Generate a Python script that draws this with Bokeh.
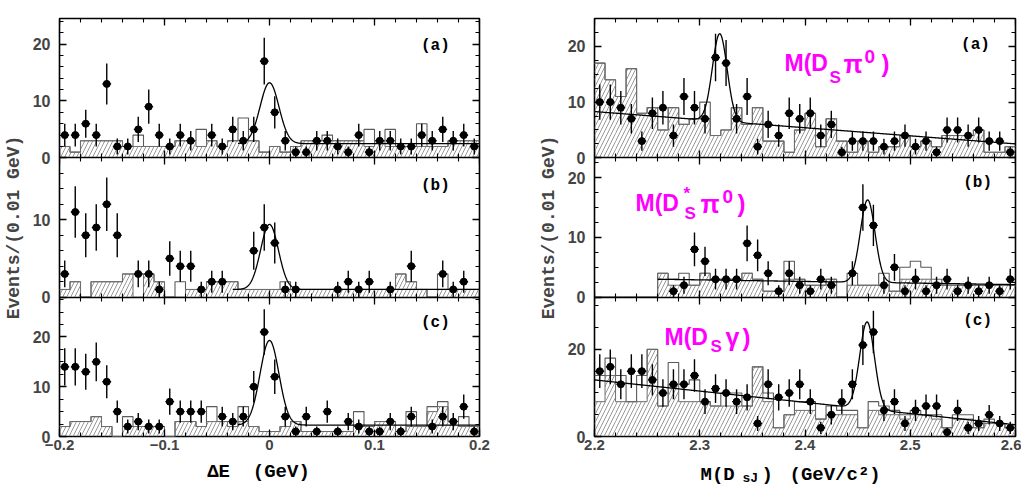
import numpy as np
from bokeh.plotting import figure
from bokeh.models import Range1d, LinearAxis, SingleIntervalTicker, FixedTicker, Label
from bokeh.layouts import row, column
from bokeh.embed import file_html
from bokeh.resources import INLINE

# ---------------- data ----------------
# bin edges (0.01 GeV bins)
de_edges = [round(-0.2 + 0.01 * i, 3) for i in range(41)]
m_edges = [round(2.2 + 0.01 * i, 3) for i in range(41)]

# Delta E panels: events per bin (points), hatched and open background histograms
de_a_n = [4, 4, 6, 4, 13, 2, 2, 5, 9, 4, 2, 4, 3, 0, 4, 2, 5, 3, 5, 17,
          8, 3, 1, 1, 3, 3, 2, 1, 4, 1, 3, 3, 2, 2, 4, 3, 5, 3, 4, 2]
de_a_hatch = [2, 1, 3, 3, 3, 3, 2, 2, 2, 2, 2, 3, 3, 2, 3, 2, 3, 3, 3, 1,
              2, 1, 2, 3, 3, 3, 3, 3, 3, 2, 3, 2, 2, 2, 2, 2, 2, 3, 3, 3]
de_a_open = [2, 1, 3, 3, 3, 3, 2, 4, 2, 2, 2, 3, 3, 5, 3, 2, 3, 7, 3, 1,
             2, 1, 2, 3, 3, 4, 3, 3, 3, 5, 3, 5, 2, 2, 6, 2, 2, 3, 3, 3]

de_b_n = [3, 11, 8, 9, 12, 8, 0, 3, 3, 1, 5, 4, 4, 1, 2, 2, 0, 0, 6, 9,
          7, 1, 1, 0, 0, 0, 1, 2, 1, 2, 0, 1, 0, 4, 0, 0, 3, 1, 2, 0]
de_b_hatch = [1, 2, 0, 2, 2, 2, 3, 0, 3, 2, 0, 0, 1, 1, 2, 2, 2, 1, 1, 1,
              1, 1, 1, 1, 1, 1, 1, 1, 1, 1, 1, 1, 3, 2, 1, 0, 1, 1, 1, 1]
de_b_open = [1, 2, 0, 2, 2, 2, 3, 3, 3, 2, 0, 2, 1, 1, 2, 2, 2, 1, 1, 1,
             1, 2, 1, 1, 1, 1, 1, 1, 1, 1, 1, 1, 3, 2, 1, 0, 3, 1, 1, 1]

de_c_n = [14, 14, 13, 15, 11, 5, 2, 3, 2, 2, 7, 5, 5, 5, 0, 4, 3, 4, 10, 21,
          12, 4, 1, 4, 1, 5, 1, 3, 2, 1, 1, 3, 1, 4, 0, 2, 4, 3, 6, 1]
de_c_hatch = [2, 3, 3, 4, 2, 0, 2, 2, 2, 2, 0, 3, 3, 2, 3, 3, 2, 3, 2, 1,
              1, 2, 3, 1, 1, 1, 1, 1, 2, 2, 3, 3, 1, 2, 2, 5, 6, 3, 2, 2]
de_c_open = [2, 3, 3, 4, 2, 0, 4, 2, 2, 2, 0, 3, 3, 2, 6, 3, 2, 6, 2, 1,
             1, 2, 3, 1, 1, 1, 1, 1, 5, 2, 3, 3, 1, 5, 2, 6, 7, 3, 4, 2]

# M(DsJ) panels
m_a_n = [10, 10, 9, 7, 3, 8, 9, 4, 11, 9, 7, 18, 17, 7, 11, 2, 6, 4, 8, 7,
         8, 4, 6, 1, 3, 3, 3, 2, 3, 4, 2, 3, 1, 5, 5, 4, 5, 3, 3, 1]
m_a_hatch = [17, 14, 11, 16, 8, 9, 5, 9, 6, 7, 7, 4, 5, 9, 6, 9, 3, 3, 1, 5,
             8, 2, 7, 3, 1, 3, 1, 2, 2, 4, 2, 3, 2, 4, 4, 4, 5, 1, 1, 2]
m_a_open = [17, 14, 11, 16, 8, 9, 5, 9, 6, 7, 10, 4, 5, 9, 6, 9, 3, 3, 1, 5,
            8, 2, 7, 3, 1, 3, 1, 2, 2, 4, 2, 3, 2, 4, 4, 4, 5, 1, 1, 2]

m_b_n = [0, 0, 0, 0, 0, 0, 0, 1, 2, 8, 6, 3, 3, 3, 9, 7, 4, 1, 4, 2,
         1, 3, 2, 0, 4, 15, 12, 2, 5, 1, 3, 1, 2, 3, 1, 2, 1, 2, 1, 3]
m_b_hatch = [0, 0, 0, 0, 0, 0, 4, 2, 2, 2, 4, 3, 3, 3, 4, 3, 1, 1, 3, 3,
             2, 2, 3, 0, 2, 2, 2, 2, 1, 3, 3, 3, 2, 2, 2, 2, 2, 2, 2, 2]
m_b_open = [0, 0, 0, 0, 0, 0, 4, 3, 4, 2, 4, 3, 3, 3, 4, 3, 1, 1, 6, 3,
            2, 2, 3, 0, 4, 2, 2, 4, 1, 5, 6, 5, 3, 2, 2, 2, 2, 2, 2, 2]

m_c_n = [15, 16, 12, 15, 15, 13, 10, 12, 12, 14, 8, 11, 10, 8, 9, 3, 12, 9, 10, 12,
         8, 2, 5, 8, 12, 21, 24, 6, 8, 3, 6, 7, 7, 1, 6, 2, 3, 5, 3, 2]
m_c_hatch = [8, 14, 8, 8, 8, 20, 7, 12, 8, 8, 8, 7, 7, 7, 7, 16, 8, 2, 5, 6,
             6, 4, 5, 5, 5, 2, 6, 5, 5, 4, 5, 5, 4, 2, 4, 4, 2, 3, 3, 2]
m_c_open = [14, 18, 14, 8, 14, 20, 7, 17, 12, 13, 8, 7, 10, 10, 7, 16, 10, 2, 5, 8,
            8, 4, 7, 6, 6, 2, 8, 7, 6, 5, 6, 5, 5, 2, 5, 5, 2, 4, 3, 2]

# fit parameters: (x_lo, x_hi, bg_const, bg_slope, amplitude, mean, sigma)
de_a_fit = (-0.03, 0.2, 2.5, 0.0, 10.7, 0.0, 0.009)
de_b_fit = (-0.035, 0.2, 1.0, 0.0, 8.4, 0.0, 0.0085)
de_c_fit = (-0.03, 0.2, 2.3, 0.0, 17.0, 0.0, 0.009)
m_a_fit = (2.2, 2.6, 8.3, -14.5, 15.7, 2.319, 0.007)
m_b_fit = (2.26, 2.6, 3.16, -2.65, 13.8, 2.4595, 0.007)
m_c_fit = (2.2, 2.6, 13.0, -25.75, 20.0, 2.459, 0.007)

# panel y maxima, y tick steps (major, minor) and tags
de_ymax = [24.5, 18.0, 28.0]
m_ymax = [25.0, 23.3, 32.0]
de_ysteps = [(10, 2), (10, 2), (10, 2.5)]
m_ysteps = [(10, 2.5), (10, 2.5), (20, 5)]
tags = ["(a)", "(b)", "(c)"]
y_title = "Events/(0.01 GeV)"
de_title = "\u0394E\u00a0\u00a0(GeV)"

# ---------------- layout constants ----------------
FRAME_H = 418
TOP_BORDER = 18
BOTTOM_BORDER = 22
MAGENTA = "#ff00ff"
TICK_FONT = "Liberation Sans"
MONO = "Liberation Mono"
R_LEFT = 592
R_W = 421
FRAME_TOP_PX = 19           # where the frame top should appear on the page
FRAME_BOTTOM_PX = FRAME_TOP_PX + FRAME_H


def px2data(px, py, x0, x1, frame_left, frame_w):
    xd = x0 + (px - frame_left) / frame_w * (x1 - x0)
    yd = 3.0 * (FRAME_BOTTOM_PX - py) / FRAME_H
    return xd, yd


def xticker():
    return SingleIntervalTicker(interval=0.1, num_minor_ticks=5)


def make_column(x0, x1, frame_w, bl, br, edges, panels, tag_pos):
    p = figure(x_range=Range1d(x0, x1), y_range=Range1d(0, 3),
               frame_width=frame_w, frame_height=FRAME_H,
               x_axis_type=None, y_axis_type=None,
               toolbar_location=None, output_backend="svg",
               background_fill_color="white", border_fill_color="white",
               outline_line_color="black", outline_line_width=1.6)
    p.min_border_left = bl
    p.min_border_right = br
    p.min_border_top = TOP_BORDER
    p.min_border_bottom = BOTTOM_BORDER

    names = ["a", "b", "c"]
    ranges = {}
    for k, pan in enumerate(panels):
        M = pan["ymax"]
        ranges[names[k]] = Range1d(-(2 - k) * M, (1 + k) * M)
    p.extra_y_ranges = ranges

    # left y axis: each panel's own 0..ymax scale stacked in the frame
    major, minor, overrides = [], [], {}
    for k, pan in enumerate(panels):
        M = pan["ymax"]
        big, small = pan["steps"]
        base = 2 - k
        v = 0.0
        while v <= M + 1e-9:
            pos = base + v / M
            major.append(pos)
            overrides[pos] = str(int(v))
            v += big
        v = 0.0
        while v <= M + 1e-9:
            minor.append(base + v / M)
            v += small
    yaxis = LinearAxis(ticker=FixedTicker(ticks=major, minor_ticks=minor),
                       major_label_overrides=overrides,
                       major_tick_in=7, major_tick_out=0,
                       minor_tick_in=4, minor_tick_out=0,
                       major_tick_line_width=1.3, minor_tick_line_width=1.1,
                       axis_line_color=None, major_label_standoff=9,
                       major_label_text_font=TICK_FONT,
                       major_label_text_font_style="bold",
                       major_label_text_font_size="16px")
    p.add_layout(yaxis, "left")

    edges = np.array(edges)
    centers = 0.5 * (edges[:-1] + edges[1:])
    hw = 0.0042

    for k, pan in enumerate(panels):
        nm = names[k]
        M = pan["ymax"]
        big, small = pan["steps"]
        # mirrored ticks on the right side
        ax = LinearAxis(y_range_name=nm, fixed_location=x1, bounds=(0, M),
                        ticker=SingleIntervalTicker(interval=big,
                                                    num_minor_ticks=int(round(big / small))),
                        major_tick_in=7, major_tick_out=0,
                        minor_tick_in=4, minor_tick_out=0,
                        major_tick_line_width=1.3, minor_tick_line_width=1.1,
                        axis_line_color=None, major_label_text_color=None)
        p.add_layout(ax, "right")

        hatch = np.array(pan["hatch"], dtype=float)
        opn = np.array(pan["open"], dtype=float)
        p.quad(left=edges[:-1], right=edges[1:], bottom=0, top=hatch,
               fill_color=None, line_color=None,
               hatch_pattern="/", hatch_color="#8c8c8c", hatch_scale=8,
               hatch_weight=0.9, y_range_name=nm)
        p.step(x=edges, y=np.append(opn, opn[-1]), mode="after",
               line_color="#5a5a5a", line_width=1.1, y_range_name=nm)
        p.step(x=edges, y=np.append(hatch, hatch[-1]), mode="after",
               line_color="#6e6e6e", line_width=1.0, y_range_name=nm)

        lo, hi, c0, c1, amp, mu, sig = pan["fit"]
        xf = np.linspace(lo, hi, 500)
        yf = c0 + c1 * (xf - x0) + amp * np.exp(-0.5 * ((xf - mu) / sig) ** 2)
        p.line(xf, yf, line_color="black", line_width=1.3, y_range_name=nm)

        n = np.array(pan["n"], dtype=float)
        m = n > 0
        xc = centers[m]
        yc = n[m]
        err = np.sqrt(yc)
        p.segment(x0=xc, y0=yc - err, x1=xc, y1=yc + err,
                  line_color="black", line_width=1.4, y_range_name=nm)
        p.segment(x0=xc - hw, y0=yc, x1=xc + hw, y1=yc,
                  line_color="black", line_width=1.4, y_range_name=nm)
        p.scatter(xc, yc, size=7, color="black", y_range_name=nm)

        tx, tf = tag_pos[k]
        p.add_layout(Label(x=tx, y=tf * M, y_range_name=nm, text=tags[k],
                           text_align="center", text_baseline="middle",
                           text_font=MONO, text_font_style="bold",
                           text_font_size="16px", text_color="black"))

    # x axes: bottom (labelled), interior boundaries and top (ticks only)
    bottom = LinearAxis(ticker=xticker(), major_tick_in=7, major_tick_out=0,
                        minor_tick_in=4, minor_tick_out=0,
                        major_tick_line_width=1.3, minor_tick_line_width=1.1,
                        axis_line_color=None, major_label_standoff=3,
                        major_label_text_font=TICK_FONT,
                        major_label_text_font_style="bold",
                        major_label_text_font_size="15px")
    p.add_layout(bottom, "below")
    for loc in (1, 2):
        ax = LinearAxis(ticker=xticker(), fixed_location=loc,
                        major_tick_in=7, major_tick_out=7,
                        minor_tick_in=4, minor_tick_out=4,
                        major_tick_line_width=1.3, minor_tick_line_width=1.1,
                        axis_line_color="black", axis_line_width=1.6,
                        major_label_text_color=None)
        p.add_layout(ax, "below")
    top = LinearAxis(ticker=xticker(), fixed_location=3,
                     major_tick_in=7, major_tick_out=0,
                     minor_tick_in=4, minor_tick_out=0,
                     major_tick_line_width=1.3, minor_tick_line_width=1.1,
                     axis_line_color=None, major_label_text_color=None)
    p.add_layout(top, "above")

    # shared y-axis title
    ylab = LinearAxis(ticker=FixedTicker(ticks=[], minor_ticks=[]), bounds=(0.17, 3),
                      axis_line_color=None, major_tick_out=0, minor_tick_out=0,
                      major_tick_in=0, minor_tick_in=0, major_label_standoff=0,
                      axis_label=y_title, axis_label_standoff=6,
                      axis_label_text_font=MONO, axis_label_text_font_style="bold",
                      axis_label_text_font_size="18px")
    p.add_layout(ylab, "left")
    return p


left_panels = [
    dict(ymax=de_ymax[k], steps=de_ysteps[k], n=n, hatch=h, open=o, fit=f)
    for k, (n, h, o, f) in enumerate([(de_a_n, de_a_hatch, de_a_open, de_a_fit),
                                      (de_b_n, de_b_hatch, de_b_open, de_b_fit),
                                      (de_c_n, de_c_hatch, de_c_open, de_c_fit)])
]
right_panels = [
    dict(ymax=m_ymax[k], steps=m_ysteps[k], n=n, hatch=h, open=o, fit=f)
    for k, (n, h, o, f) in enumerate([(m_a_n, m_a_hatch, m_a_open, m_a_fit),
                                      (m_b_n, m_b_hatch, m_b_open, m_b_fit),
                                      (m_c_n, m_c_hatch, m_c_open, m_c_fit)])
]

pL = make_column(-0.2, 0.2, 420, 54, 56, de_edges, left_panels,
                 [(0.158, 0.80), (0.158, 0.80), (0.158, 0.815)])
pR = make_column(2.2, 2.6, 421, 54, 6, m_edges, right_panels,
                 [(2.562, 0.81), (2.564, 0.82), (2.564, 0.83)])


def add_pieces(p, pieces, color, font, style="bold"):
    for text, px, py, size in pieces:
        xd, yd = px2data(px, py, 2.2, 2.6, R_LEFT, R_W)
        p.add_layout(Label(x=xd, y=yd, text=text, text_align="left",
                           text_baseline="alphabetic", text_font=font,
                           text_font_style=style, text_font_size=f"{size}px",
                           text_color=color))


# magenta channel labels
add_pieces(pR, [("M(D", 782, 63, 23), ("S", 827, 78, 17), ("\u03c0", 841, 64, 25),
                ("0", 862, 57, 19), (")", 879, 64, 24)], MAGENTA, TICK_FONT)
add_pieces(pR, [("M(D", 633, 203, 23), ("*", 681, 194, 17), ("S", 682, 214, 17),
                ("\u03c0", 698, 204, 25), ("0", 720, 197, 19), (")", 735, 204, 24)],
           MAGENTA, TICK_FONT)
add_pieces(pR, [("M(D", 662, 337, 23), ("S", 708, 347, 17), ("\u03b3", 723, 337, 25),
                (")", 740, 338, 24)], MAGENTA, TICK_FONT)

# strip below both columns holding the x-axis titles (page-pixel coordinates)
STRIP_TOP = 459
STRIP_H = 30
strip = figure(width=1011, height=STRIP_H, frame_width=1011, frame_height=STRIP_H,
               x_range=Range1d(8, 1019), y_range=Range1d(STRIP_TOP + STRIP_H, STRIP_TOP),
               min_border=0, x_axis_type=None, y_axis_type=None,
               toolbar_location=None, output_backend="svg",
               outline_line_color=None, background_fill_color="white",
               border_fill_color="white")
strip.add_layout(Label(x=266, y=472, text=de_title, text_align="center",
                       text_baseline="alphabetic", text_font=MONO,
                       text_font_style="bold", text_font_size="19px",
                       text_color="black"))
for text, px, py, size in [("M(D", 708, 475, 19), ("sJ", 750, 479, 13),
                           (")", 769, 475, 19), ("(GeV/c\u00b2)", 797, 475, 19)]:
    strip.add_layout(Label(x=px, y=py, text=text, text_align="left",
                           text_baseline="alphabetic", text_font=MONO,
                           text_font_style="bold", text_font_size=f"{size}px",
                           text_color="black"))

layout = column(row(pL, pR), strip)
open("out.html", "w").write(file_html(layout, INLINE))
